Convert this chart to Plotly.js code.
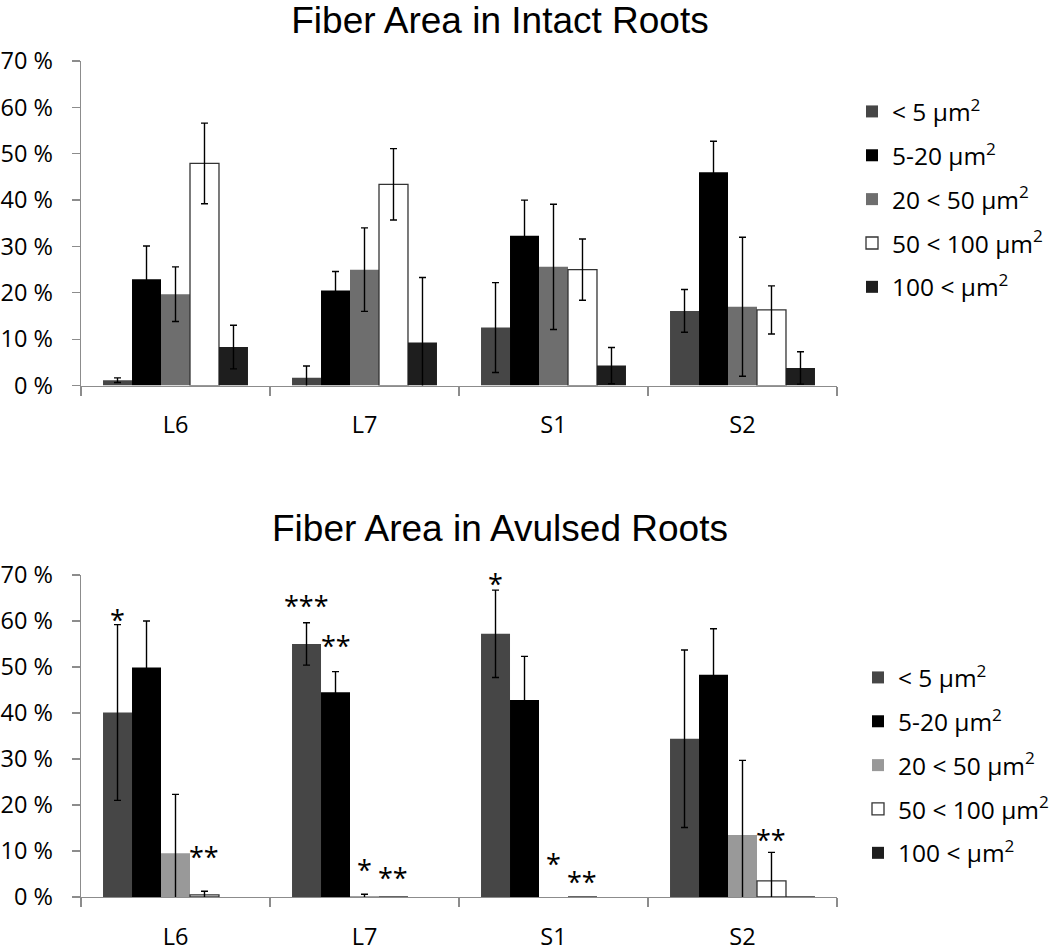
<!DOCTYPE html>
<html>
<head>
<meta charset="utf-8">
<script src="https://cdn.plot.ly/plotly-3.0.1.min.js"></script>
<style>
  html, body { margin: 0; padding: 0; background: #ffffff; }
  #chart { width: 1050px; height: 952px; }
</style>
</head>
<body>
<div id="chart"></div>
<script>
// ---------- data ----------
const categories = ['L6', 'L7', 'S1', 'S2'];
const seriesNames = [
  '&lt; 5 μm<sup>2</sup>',
  '5-20 μm<sup>2</sup>',
  '20 &lt; 50 μm<sup>2</sup>',
  '50 &lt; 100 μm<sup>2</sup>',
  '100 &lt; μm<sup>2</sup>'
];
const topTitle = 'Fiber Area in Intact Roots';
const bottomTitle = 'Fiber Area in Avulsed Roots';

// Intact roots (percent)
const intactLt5      = [1.15, 1.7, 12.5, 16.1];
const intact5to20    = [22.9, 20.5, 32.3, 46.0];
const intact20to50   = [19.7, 25.0, 25.6, 17.0];
const intact50to100  = [47.9, 43.4, 25.0, 16.3];
const intactGt100    = [8.3, 9.3, 4.3, 3.8];
const intactErrLt5     = [0.5, 2.5, 9.7, 4.6];
const intactErr5to20   = [7.2, 4.1, 7.7, 6.7];
const intactErr20to50  = [5.9, 9.0, 13.5, 15.0];
const intactErr50to100 = [8.7, 7.7, 6.6, 5.2];
const intactErrGt100   = [4.7, 14.0, 3.9, 3.5];

// Avulsed roots (percent)
const avulsedLt5      = [40.1, 55.0, 57.2, 34.4];
const avulsed5to20    = [49.9, 44.5, 42.8, 48.3];
const avulsed20to50   = [9.5, 0.2, 0, 13.5];
const avulsed50to100  = [0.45, 0, 0, 3.5];
const avulsedGt100    = [0, 0, 0, 0.15];
const avulsedErrLt5     = [19.1, 4.6, 9.5, 19.3];
const avulsedErr5to20   = [10.1, 4.5, 9.5, 10.0];
const avulsedErr20to50  = [12.8, 0.4, 0, 16.2];
const avulsedErr50to100 = [0.8, 0, 0, 6.2];
const avulsedErrGt100   = [0, 0, 0, 0];

// significance markers in the avulsed chart
const starText     = ['*', '***', '**', '**', '*', '**', '*', '*', '**', '**'];
const starCategory = [0, 1, 1, 0, 1, 1, 2, 2, 2, 3];
const starSeries   = [0, 0, 1, 3, 2, 3, 0, 2, 3, 3];
const starValue    = [62.0, 65.2, 56.5, 10.6, 7.7, 6.0, 69.9, 9.1, 5.1, 14.3];

// ---------- styles ----------
const colorsTop    = ['#464646', '#000000', '#6e6e6e', '#ffffff', '#1e1e1e'];
const colorsBottom = ['#464646', '#000000', '#999999', '#ffffff', '#1e1e1e'];
const outline      = [0, 0, 0, 1.3, 0];
const FONT = 'Open Sans, Lato, sans-serif';
const BARGAP = 0.233;
const barFrac = (1 - BARGAP) / 5;

const intactVals = [intactLt5, intact5to20, intact20to50, intact50to100, intactGt100];
const intactErrs = [intactErrLt5, intactErr5to20, intactErr20to50, intactErr50to100, intactErrGt100];
const avulsedVals = [avulsedLt5, avulsed5to20, avulsed20to50, avulsed50to100, avulsedGt100];
const avulsedErrs = [avulsedErrLt5, avulsedErr5to20, avulsedErr20to50, avulsedErr50to100, avulsedErrGt100];

function makeTraces(vals, errs, colors, xa, ya, legendId, groupPrefix) {
  return vals.map((v, i) => ({
    type: 'bar',
    name: seriesNames[i],
    x: categories,
    y: v,
    xaxis: xa,
    yaxis: ya,
    legend: legendId,
    legendgroup: groupPrefix + i,
    marker: { color: colors[i], line: { color: '#333333', width: outline[i] } },
    // no error bar is drawn where the reference shows none
    error_y: { type: 'data', array: errs[i].map(e => (e > 0 ? e : NaN)), visible: true,
               color: '#000000', thickness: 1.4, width: 3.5 },
    hoverinfo: 'x+y'
  }));
}

const traces = []
  .concat(makeTraces(intactVals, intactErrs, colorsTop, 'x', 'y', 'legend', 'a'))
  .concat(makeTraces(avulsedVals, avulsedErrs, colorsBottom, 'x2', 'y2', 'legend2', 'b'));

const axisGray = '#8c8c8c';
function yAxis(domain, anchor) {
  return {
    domain: domain, anchor: anchor, range: [0, 70], dtick: 10, tick0: 0,
    ticksuffix: ' %', showgrid: false, zeroline: false,
    showline: true, linecolor: axisGray, linewidth: 1.3,
    ticks: 'outside', ticklen: 8, tickcolor: axisGray, tickwidth: 1.3,
    ticklabelstandoff: 14,
    tickfont: { family: FONT, size: 23.5, color: '#000000' },
    fixedrange: true
  };
}
function xAxis(anchor) {
  return {
    type: 'category', anchor: anchor, domain: [0, 1],
    showline: true, linecolor: axisGray, linewidth: 1.3,
    ticks: 'outside', ticklen: 9, tickcolor: axisGray, tickwidth: 1.3,
    tickson: 'boundaries', showgrid: false, zeroline: false,
    ticklabelstandoff: 18,
    tickfont: { family: FONT, size: 23.5, color: '#000000' },
    fixedrange: true
  };
}

const annotations = starText.map((t, k) => ({
  xref: 'x2', yref: 'y2',
  x: starCategory[k] + (starSeries[k] - 2) * barFrac,
  y: starValue[k],
  text: t, showarrow: false,
  xanchor: 'center', yanchor: 'middle', yshift: -8,
  font: { family: FONT, size: 27, color: '#000000' }
}));
annotations.push({
  xref: 'paper', yref: 'paper', x: (500 - 81) / 756, y: (897 - 528) / 836,
  xanchor: 'center', yanchor: 'middle', showarrow: false,
  text: bottomTitle,
  font: { family: 'Liberation Sans, Arial, sans-serif', size: 37, color: '#000000' }
});

const legendBase = {
  xanchor: 'left', yanchor: 'top',
  font: { family: FONT, size: 24.5, color: '#000000' },
  bgcolor: 'rgba(0,0,0,0)', borderwidth: 0,
  traceorder: 'grouped', tracegroupgap: 9, itemclick: false, itemdoubleclick: false
};

const layout = {
  width: 1050, height: 952,
  margin: { l: 81, r: 213, t: 61, b: 55, autoexpand: false },
  paper_bgcolor: '#ffffff', plot_bgcolor: '#ffffff',
  barmode: 'group', bargap: BARGAP, bargroupgap: 0,
  title: {
    text: topTitle, xref: 'container', yref: 'container',
    x: 500 / 1050, xanchor: 'center', y: 1 - 20 / 952, yanchor: 'middle',
    font: { family: 'Liberation Sans, Arial, sans-serif', size: 37, color: '#000000' }
  },
  xaxis: xAxis('y'),
  yaxis: yAxis([0.6118, 1], 'x'),
  xaxis2: xAxis('y2'),
  yaxis2: yAxis([0, 0.3852], 'x2'),
  legend: Object.assign({}, legendBase, { x: (852 - 81) / 756, y: (897 - 89) / 836 }),
  legend2: Object.assign({}, legendBase, { x: (858 - 81) / 756, y: (897 - 655) / 836 }),
  annotations: annotations,
  showlegend: true
};

Plotly.newPlot('chart', traces, layout, { displayModeBar: false, staticPlot: true });
</script>
</body>
</html>
